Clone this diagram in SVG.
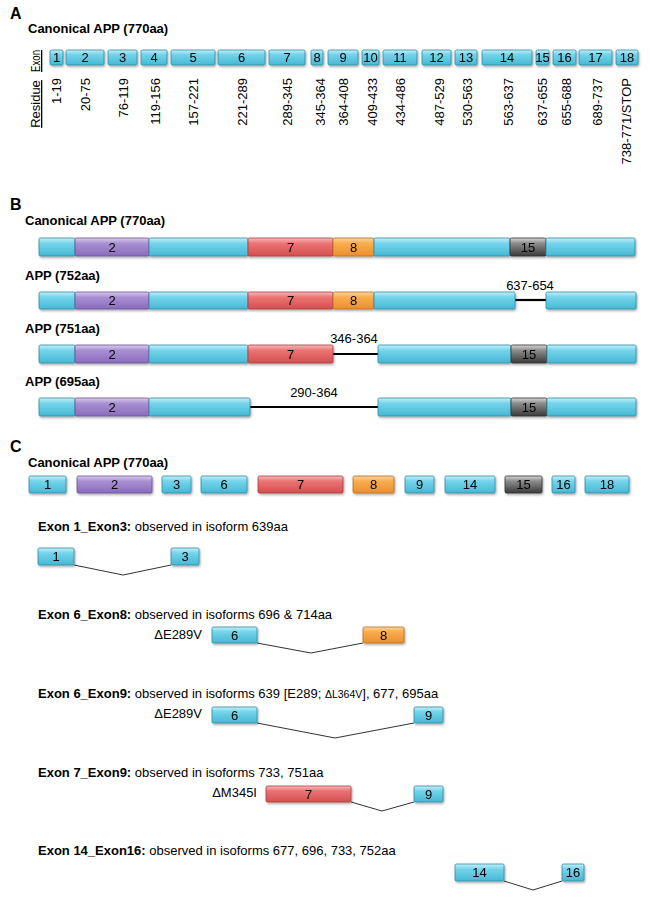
<svg xmlns="http://www.w3.org/2000/svg" width="650" height="906" viewBox="0 0 650 906">
<style>
text{font-family:"Liberation Sans",Arial,sans-serif;fill:#000}
.pl{font-size:16px;font-weight:bold}
.hd{font-size:13px;font-weight:bold}
.tx{font-size:13px}
.n{font-size:13px;text-anchor:middle}
.rs{font-size:13px;text-anchor:end}
.cy{fill:url(#gCy);stroke:#2f8aa3;stroke-width:0.8}
.pu{fill:url(#gPu);stroke:#6b5096;stroke-width:0.8}
.rd{fill:url(#gRd);stroke:#a83c3c;stroke-width:0.8}
.or{fill:url(#gOr);stroke:#b86d1f;stroke-width:0.8}
.gy{fill:url(#gGy);stroke:#333;stroke-width:0.8}
.bx{filter:url(#sh)}
.gap{stroke:#000;stroke-width:2.2;fill:none}
.sp{stroke:#333;stroke-width:1;fill:none}
</style>
<defs>
<linearGradient id="gCy" x1="0" y1="0" x2="0" y2="1"><stop offset="0" stop-color="#c4f0fa"/><stop offset="0.3" stop-color="#74d4ea"/><stop offset="1" stop-color="#46b8d4"/></linearGradient>
<linearGradient id="gPu" x1="0" y1="0" x2="0" y2="1"><stop offset="0" stop-color="#dccdef"/><stop offset="0.3" stop-color="#a98fd2"/><stop offset="1" stop-color="#8a6cbd"/></linearGradient>
<linearGradient id="gRd" x1="0" y1="0" x2="0" y2="1"><stop offset="0" stop-color="#f9bcbc"/><stop offset="0.3" stop-color="#eb7474"/><stop offset="1" stop-color="#d44f4f"/></linearGradient>
<linearGradient id="gOr" x1="0" y1="0" x2="0" y2="1"><stop offset="0" stop-color="#fdd6a0"/><stop offset="0.3" stop-color="#f9ad4e"/><stop offset="1" stop-color="#eb8f2e"/></linearGradient>
<linearGradient id="gGy" x1="0" y1="0" x2="0" y2="1"><stop offset="0" stop-color="#d6d6d6"/><stop offset="0.3" stop-color="#8c8c8c"/><stop offset="1" stop-color="#3a3a3a"/></linearGradient>
<filter id="sh" x="-10%" y="-30%" width="130%" height="180%"><feDropShadow dx="1" dy="1.5" stdDeviation="0.8" flood-color="#000" flood-opacity="0.35"/></filter>
</defs>

<!-- Panel A -->
<g id="panelA">
<text class="pl" x="10" y="19">A</text>
<text class="hd" x="28" y="33">Canonical APP (770aa)</text>
<text class="tx" transform="translate(40,61) rotate(-90)" text-anchor="middle" text-decoration="underline" textLength="22" lengthAdjust="spacingAndGlyphs">Exon</text>
<text class="tx" transform="translate(40,104) rotate(-90)" text-anchor="middle" text-decoration="underline">Residue</text>
</g>
<g id="A-exons" class="bx">
<g id="A-e1"><rect class="cy" x="50" y="50" width="13" height="15" rx="1.5"/><text class="n" x="56.5" y="62">1</text></g>
<g id="A-e2"><rect class="cy" x="66" y="50" width="38" height="15" rx="1.5"/><text class="n" x="85" y="62">2</text></g>
<g id="A-e3"><rect class="cy" x="108" y="50" width="29" height="15" rx="1.5"/><text class="n" x="122.5" y="62">3</text></g>
<g id="A-e4"><rect class="cy" x="141" y="50" width="26" height="15" rx="1.5"/><text class="n" x="154" y="62">4</text></g>
<g id="A-e5"><rect class="cy" x="171" y="50" width="44" height="15" rx="1.5"/><text class="n" x="193" y="62">5</text></g>
<g id="A-e6"><rect class="cy" x="218" y="50" width="47" height="15" rx="1.5"/><text class="n" x="241.5" y="62">6</text></g>
<g id="A-e7"><rect class="cy" x="269" y="50" width="36" height="15" rx="1.5"/><text class="n" x="287" y="62">7</text></g>
<g id="A-e8"><rect class="cy" x="311" y="50" width="12" height="15" rx="1.5"/><text class="n" x="317" y="62">8</text></g>
<g id="A-e9"><rect class="cy" x="328" y="50" width="30" height="15" rx="1.5"/><text class="n" x="343" y="62">9</text></g>
<g id="A-e10"><rect class="cy" x="362" y="50" width="17" height="15" rx="1.5"/><text class="n" x="370.5" y="62">10</text></g>
<g id="A-e11"><rect class="cy" x="383" y="50" width="34" height="15" rx="1.5"/><text class="n" x="400" y="62">11</text></g>
<g id="A-e12"><rect class="cy" x="422" y="50" width="29" height="15" rx="1.5"/><text class="n" x="436.5" y="62">12</text></g>
<g id="A-e13"><rect class="cy" x="455" y="50" width="22" height="15" rx="1.5"/><text class="n" x="466" y="62">13</text></g>
<g id="A-e14"><rect class="cy" x="482" y="50" width="50" height="15" rx="1.5"/><text class="n" x="507" y="62">14</text></g>
<g id="A-e15"><rect class="cy" x="536" y="50" width="13" height="15" rx="1.5"/><text class="n" x="542.5" y="62">15</text></g>
<g id="A-e16"><rect class="cy" x="553" y="50" width="23" height="15" rx="1.5"/><text class="n" x="564.5" y="62">16</text></g>
<g id="A-e17"><rect class="cy" x="579" y="50" width="33" height="15" rx="1.5"/><text class="n" x="595.5" y="62">17</text></g>
<g id="A-e18"><rect class="cy" x="616" y="50" width="22" height="15" rx="1.5"/><text class="n" x="627" y="62">18</text></g>
</g>
<g id="A-residues">
<text class="rs" transform="translate(60.6,78) rotate(-90)">1-19</text>
<text class="rs" transform="translate(90,78) rotate(-90)">20-75</text>
<text class="rs" transform="translate(127.6,78) rotate(-90)">76-119</text>
<text class="rs" transform="translate(159.6,78) rotate(-90)">119-156</text>
<text class="rs" transform="translate(197.6,78) rotate(-90)">157-221</text>
<text class="rs" transform="translate(246.6,78) rotate(-90)">221-289</text>
<text class="rs" transform="translate(291.6,78) rotate(-90)">289-345</text>
<text class="rs" transform="translate(324.6,78) rotate(-90)">345-364</text>
<text class="rs" transform="translate(347.6,78) rotate(-90)">364-408</text>
<text class="rs" transform="translate(376.6,78) rotate(-90)">409-433</text>
<text class="rs" transform="translate(404.6,78) rotate(-90)">434-486</text>
<text class="rs" transform="translate(443.6,78) rotate(-90)">487-529</text>
<text class="rs" transform="translate(471.6,78) rotate(-90)">530-563</text>
<text class="rs" transform="translate(512.6,78) rotate(-90)">563-637</text>
<text class="rs" transform="translate(547.1,78) rotate(-90)">637-655</text>
<text class="rs" transform="translate(571.1,78) rotate(-90)">655-688</text>
<text class="rs" transform="translate(602.1,78) rotate(-90)">689-737</text>
<text class="rs" transform="translate(630.6,78) rotate(-90)">738-771/STOP</text>
</g>

<!-- Panel B -->
<g id="panelB">
<text class="pl" x="10" y="210">B</text>
<text class="hd" x="25" y="225">Canonical APP (770aa)</text>
<text class="hd" x="25" y="280">APP (752aa)</text>
<text class="hd" x="25" y="333">APP (751aa)</text>
<text class="hd" x="25" y="386">APP (695aa)</text>
<text class="tx" x="530" y="290" text-anchor="middle">637-654</text>
<text class="tx" x="354" y="343" text-anchor="middle">346-364</text>
<text class="tx" x="314" y="397" text-anchor="middle">290-364</text>
</g>
<g id="connectors">
<line class="gap" x1="515" y1="300" x2="546" y2="300"/>
<line class="gap" x1="333" y1="354" x2="378" y2="354"/>
<line class="gap" x1="250" y1="407" x2="378" y2="407"/>
<polyline class="sp" points="74,565 123,575 171,565"/>
<polyline class="sp" points="257,643 311,653 363,643"/>
<polyline class="sp" points="257,723 335,738 414,723"/>
<polyline class="sp" points="351,802 382,811 414,802"/>
<polyline class="sp" points="504,881 533,890 562,881"/>
</g>
<g id="B-770" class="bx">
<rect class="cy" x="39" y="238" width="36" height="18" rx="1.5"/>
<rect class="pu" x="75" y="238" width="74" height="18" rx="1.5"/>
<rect class="cy" x="149" y="238" width="99" height="18" rx="1.5"/>
<rect class="rd" x="248" y="238" width="85" height="18" rx="1.5"/>
<rect class="or" x="333" y="238" width="41" height="18" rx="1.5"/>
<rect class="cy" x="374" y="238" width="136" height="18" rx="1.5"/>
<rect class="gy" x="510" y="238" width="36" height="18" rx="1.5"/>
<rect class="cy" x="546" y="238" width="89" height="18" rx="1.5"/>
<text class="n" x="112" y="252">2</text><text class="n" x="290.5" y="252">7</text><text class="n" x="353.5" y="252">8</text><text class="n" x="528" y="252">15</text>
</g>
<g id="B-752" class="bx">
<rect class="cy" x="39" y="292" width="36" height="17" rx="1.5"/>
<rect class="pu" x="75" y="292" width="74" height="17" rx="1.5"/>
<rect class="cy" x="149" y="292" width="99" height="17" rx="1.5"/>
<rect class="rd" x="248" y="292" width="85" height="17" rx="1.5"/>
<rect class="or" x="333" y="292" width="41" height="17" rx="1.5"/>
<rect class="cy" x="374" y="292" width="141" height="17" rx="1.5"/>
<rect class="cy" x="546" y="292" width="90" height="17" rx="1.5"/>
<text class="n" x="112" y="305">2</text><text class="n" x="290.5" y="305">7</text><text class="n" x="353.5" y="305">8</text>
</g>
<g id="B-751" class="bx">
<rect class="cy" x="39" y="345" width="36" height="18" rx="1.5"/>
<rect class="pu" x="75" y="345" width="74" height="18" rx="1.5"/>
<rect class="cy" x="149" y="345" width="99" height="18" rx="1.5"/>
<rect class="rd" x="248" y="345" width="85" height="18" rx="1.5"/>
<rect class="cy" x="378" y="345" width="133" height="18" rx="1.5"/>
<rect class="gy" x="511" y="345" width="36" height="18" rx="1.5"/>
<rect class="cy" x="547" y="345" width="89" height="18" rx="1.5"/>
<text class="n" x="112" y="359">2</text><text class="n" x="290.5" y="359">7</text><text class="n" x="529" y="359">15</text>
</g>
<g id="B-695" class="bx">
<rect class="cy" x="39" y="398" width="36" height="18" rx="1.5"/>
<rect class="pu" x="75" y="398" width="74" height="18" rx="1.5"/>
<rect class="cy" x="149" y="398" width="101" height="18" rx="1.5"/>
<rect class="cy" x="378" y="398" width="133" height="18" rx="1.5"/>
<rect class="gy" x="511" y="398" width="36" height="18" rx="1.5"/>
<rect class="cy" x="547" y="398" width="89" height="18" rx="1.5"/>
<text class="n" x="112" y="412">2</text><text class="n" x="529" y="412">15</text>
</g>

<!-- Panel C -->
<g id="panelC">
<text class="pl" x="10" y="452">C</text>
<text class="hd" x="28" y="467">Canonical APP (770aa)</text>
<text class="tx" x="38" y="531"><tspan font-weight="bold">Exon 1_Exon3:</tspan> observed in isoform 639aa</text>
<text class="tx" x="38" y="619"><tspan font-weight="bold">Exon 6_Exon8:</tspan> observed in isoforms 696 &amp; 714aa</text>
<text class="tx" x="202" y="639" text-anchor="end">ΔE289V</text>
<text class="tx" x="38" y="698"><tspan font-weight="bold">Exon 6_Exon9:</tspan> observed in isoforms 639 [E289; <tspan font-size="10.5">ΔL364V</tspan>], 677, 695aa</text>
<text class="tx" x="202" y="718" text-anchor="end">ΔE289V</text>
<text class="tx" x="38" y="777"><tspan font-weight="bold">Exon 7_Exon9:</tspan> observed in isoforms 733, 751aa</text>
<text class="tx" x="257" y="797" text-anchor="end">ΔM345I</text>
<text class="tx" x="38" y="855"><tspan font-weight="bold">Exon 14_Exon16:</tspan> observed in isoforms 677, 696, 733, 752aa</text>
</g>
<g id="C-canonical" class="bx">
<g id="C-e1"><rect class="cy" x="29" y="476" width="37" height="17" rx="1.5"/><text class="n" x="47.5" y="489">1</text></g>
<g id="C-e2"><rect class="pu" x="77" y="476" width="75" height="17" rx="1.5"/><text class="n" x="114.5" y="489">2</text></g>
<g id="C-e3"><rect class="cy" x="162" y="476" width="29" height="17" rx="1.5"/><text class="n" x="176.5" y="489">3</text></g>
<g id="C-e6"><rect class="cy" x="201" y="476" width="46" height="17" rx="1.5"/><text class="n" x="224" y="489">6</text></g>
<g id="C-e7"><rect class="rd" x="258" y="476" width="85" height="17" rx="1.5"/><text class="n" x="300.5" y="489">7</text></g>
<g id="C-e8"><rect class="or" x="353" y="476" width="41" height="17" rx="1.5"/><text class="n" x="373.5" y="489">8</text></g>
<g id="C-e9"><rect class="cy" x="405" y="476" width="29" height="17" rx="1.5"/><text class="n" x="419.5" y="489">9</text></g>
<g id="C-e14"><rect class="cy" x="445" y="476" width="50" height="17" rx="1.5"/><text class="n" x="470" y="489">14</text></g>
<g id="C-e15"><rect class="gy" x="505" y="476" width="37" height="17" rx="1.5"/><text class="n" x="523.5" y="489">15</text></g>
<g id="C-e16"><rect class="cy" x="552" y="476" width="23" height="17" rx="1.5"/><text class="n" x="563.5" y="489">16</text></g>
<g id="C-e18"><rect class="cy" x="585" y="476" width="44" height="17" rx="1.5"/><text class="n" x="607" y="489">18</text></g>
</g>
<g id="C-1-3" class="bx">
<g id="C13-e1"><rect class="cy" x="38" y="548" width="36" height="17" rx="1.5"/><text class="n" x="56" y="561">1</text></g>
<g id="C13-e3"><rect class="cy" x="171" y="548" width="28" height="17" rx="1.5"/><text class="n" x="185" y="561">3</text></g>
</g>
<g id="C-6-8" class="bx">
<g id="C68-e6"><rect class="cy" x="212" y="627" width="45" height="16" rx="1.5"/><text class="n" x="234.5" y="640">6</text></g>
<g id="C68-e8"><rect class="or" x="363" y="627" width="41" height="16" rx="1.5"/><text class="n" x="383.5" y="640">8</text></g>
</g>
<g id="C-6-9" class="bx">
<g id="C69-e6"><rect class="cy" x="212" y="707" width="45" height="16" rx="1.5"/><text class="n" x="234.5" y="720">6</text></g>
<g id="C69-e9"><rect class="cy" x="414" y="707" width="29" height="16" rx="1.5"/><text class="n" x="428.5" y="720">9</text></g>
</g>
<g id="C-7-9" class="bx">
<g id="C79-e7"><rect class="rd" x="266" y="786" width="85" height="16" rx="1.5"/><text class="n" x="308.5" y="799">7</text></g>
<g id="C79-e9"><rect class="cy" x="414" y="786" width="29" height="16" rx="1.5"/><text class="n" x="428.5" y="799">9</text></g>
</g>
<g id="C-14-16" class="bx">
<g id="C1416-e14"><rect class="cy" x="455" y="864" width="49" height="17" rx="1.5"/><text class="n" x="479.5" y="877">14</text></g>
<g id="C1416-e16"><rect class="cy" x="562" y="864" width="22" height="17" rx="1.5"/><text class="n" x="573" y="877">16</text></g>
</g>
</svg>
